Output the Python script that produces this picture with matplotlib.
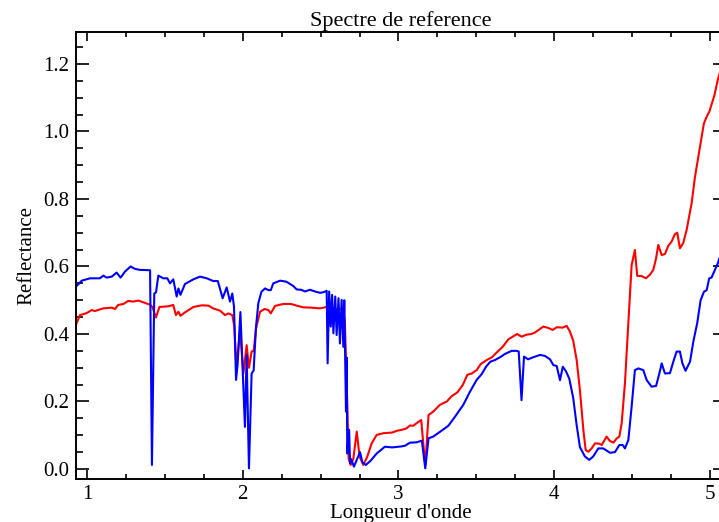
import numpy as np
import matplotlib
matplotlib.use("Agg")
from matplotlib import pyplot as plt
from matplotlib.ticker import MultipleLocator

# Reference spectrum, red curve (wavelength, reflectance)
wl_red = [0.929, 0.955, 0.998, 1.030, 1.050, 1.105, 1.159, 1.180, 1.200, 1.234,
          1.265, 1.297, 1.330, 1.367, 1.404, 1.420, 1.443, 1.465, 1.520, 1.554,
          1.571, 1.587, 1.600, 1.629, 1.683, 1.737, 1.780, 1.810, 1.855, 1.886,
          1.907, 1.933, 1.946, 1.957, 1.970, 1.983, 2.004, 2.025, 2.040, 2.057,
          2.070, 2.085, 2.111, 2.140, 2.165, 2.180, 2.207, 2.260, 2.310, 2.346,
          2.389, 2.440, 2.496, 2.550, 2.603, 2.646, 2.656, 2.670, 2.680, 2.693,
          2.710, 2.732, 2.750, 2.774, 2.800, 2.828, 2.860, 2.902, 2.960, 2.988,
          3.020, 3.050, 3.074, 3.095, 3.120, 3.146, 3.172, 3.193, 3.223, 3.266,
          3.310, 3.342, 3.378, 3.413, 3.442, 3.470, 3.502, 3.528, 3.567, 3.600,
          3.630, 3.669, 3.705, 3.733, 3.762, 3.790, 3.822, 3.853, 3.875, 3.900,
          3.930, 3.962, 3.990, 4.016, 4.055, 4.080, 4.101, 4.122, 4.144, 4.165,
          4.187, 4.202, 4.219, 4.240, 4.262, 4.290, 4.305, 4.336, 4.358, 4.380,
          4.400, 4.418, 4.433, 4.454, 4.476, 4.497, 4.518, 4.533, 4.560, 4.589,
          4.615, 4.636, 4.654, 4.668, 4.690, 4.711, 4.732, 4.754, 4.775, 4.790,
          4.807, 4.828, 4.850, 4.882, 4.904, 4.936, 4.961, 4.979, 4.996, 5.029,
          5.050, 5.075]
refl_red = [0.427, 0.456, 0.462, 0.471, 0.468, 0.476, 0.478, 0.474, 0.486, 0.489,
            0.498, 0.496, 0.499, 0.493, 0.487, 0.480, 0.449, 0.480, 0.482, 0.486,
            0.456, 0.466, 0.454, 0.464, 0.480, 0.485, 0.484, 0.476, 0.469, 0.456,
            0.461, 0.456, 0.422, 0.320, 0.350, 0.410, 0.283, 0.367, 0.300, 0.348,
            0.350, 0.415, 0.466, 0.474, 0.471, 0.461, 0.483, 0.489, 0.489, 0.484,
            0.479, 0.478, 0.476, 0.481, 0.473, 0.476, 0.432, 0.214, 0.030, 0.012,
            0.030, 0.111, 0.037, 0.012, 0.037, 0.076, 0.101, 0.106, 0.108, 0.113,
            0.116, 0.120, 0.129, 0.128, 0.137, 0.145, 0.010, 0.160, 0.170, 0.190,
            0.200, 0.216, 0.227, 0.249, 0.279, 0.283, 0.293, 0.311, 0.323, 0.331,
            0.345, 0.362, 0.384, 0.392, 0.400, 0.392, 0.398, 0.400, 0.404, 0.412,
            0.422, 0.418, 0.412, 0.420, 0.419, 0.424, 0.407, 0.380, 0.323, 0.234,
            0.116, 0.056, 0.051, 0.061, 0.076, 0.075, 0.071, 0.096, 0.083, 0.078,
            0.090, 0.096, 0.135, 0.254, 0.432, 0.604, 0.649, 0.572, 0.572, 0.565,
            0.576, 0.590, 0.624, 0.664, 0.634, 0.637, 0.661, 0.674, 0.696, 0.700,
            0.654, 0.669, 0.708, 0.787, 0.866, 0.955, 1.024, 1.044, 1.059, 1.108,
            1.153, 1.192]

# Blue curve
wl_blue = [0.929, 0.966, 1.019, 1.083, 1.105, 1.126, 1.159, 1.190, 1.216, 1.244,
           1.280, 1.308, 1.340, 1.405, 1.417, 1.432, 1.443, 1.458, 1.490, 1.516,
           1.533, 1.554, 1.576, 1.587, 1.600, 1.629, 1.683, 1.726, 1.769, 1.810,
           1.840, 1.871, 1.897, 1.918, 1.933, 1.944, 1.957, 1.967, 1.985, 2.014,
           2.025, 2.040, 2.057, 2.070, 2.085, 2.100, 2.120, 2.143, 2.165, 2.180,
           2.196, 2.240, 2.280, 2.325, 2.346, 2.375, 2.400, 2.432, 2.464, 2.496,
           2.520, 2.539, 2.545, 2.555, 2.565, 2.574, 2.582, 2.594, 2.603, 2.615,
           2.624, 2.635, 2.646, 2.652, 2.663, 2.668, 2.671, 2.683, 2.689, 2.695,
           2.714, 2.753, 2.768, 2.790, 2.820, 2.860, 2.913, 2.960, 3.020, 3.042,
           3.074, 3.116, 3.150, 3.172, 3.193, 3.223, 3.266, 3.320, 3.363, 3.416,
           3.459, 3.502, 3.534, 3.562, 3.590, 3.620, 3.652, 3.684, 3.727, 3.759,
           3.772, 3.790, 3.806, 3.832, 3.865, 3.909, 3.940, 3.973, 3.994, 4.016,
           4.037, 4.055, 4.076, 4.097, 4.122, 4.144, 4.165, 4.197, 4.225, 4.250,
           4.283, 4.315, 4.358, 4.390, 4.418, 4.440, 4.454, 4.476, 4.497, 4.518,
           4.540, 4.572, 4.593, 4.625, 4.654, 4.675, 4.690, 4.711, 4.743, 4.768,
           4.786, 4.807, 4.823, 4.843, 4.872, 4.893, 4.918, 4.940, 4.961, 4.979,
           4.995, 5.010, 5.050, 5.075]
refl_blue = [0.540, 0.558, 0.565, 0.565, 0.573, 0.567, 0.570, 0.582, 0.567, 0.585,
             0.600, 0.593, 0.590, 0.589, 0.012, 0.520, 0.523, 0.573, 0.565, 0.565,
             0.550, 0.562, 0.511, 0.535, 0.516, 0.548, 0.562, 0.570, 0.565, 0.557,
             0.557, 0.506, 0.538, 0.496, 0.520, 0.480, 0.264, 0.310, 0.465, 0.125,
             0.338, 0.002, 0.283, 0.292, 0.420, 0.491, 0.525, 0.535, 0.530, 0.530,
             0.550, 0.558, 0.555, 0.542, 0.532, 0.531, 0.526, 0.531, 0.526, 0.522,
             0.524, 0.528, 0.313, 0.526, 0.422, 0.516, 0.402, 0.511, 0.397, 0.506,
             0.372, 0.501, 0.362, 0.500, 0.170, 0.330, 0.046, 0.116, 0.017, 0.030,
             0.007, 0.050, 0.020, 0.012, 0.024, 0.046, 0.066, 0.064, 0.067, 0.069,
             0.078, 0.079, 0.084, 0.002, 0.091, 0.096, 0.110, 0.128, 0.155, 0.190,
             0.229, 0.264, 0.281, 0.303, 0.318, 0.323, 0.331, 0.341, 0.350, 0.350,
             0.348, 0.204, 0.333, 0.325, 0.331, 0.338, 0.335, 0.325, 0.308, 0.305,
             0.263, 0.303, 0.289, 0.267, 0.210, 0.130, 0.065, 0.037, 0.027, 0.037,
             0.061, 0.061, 0.048, 0.050, 0.071, 0.071, 0.061, 0.086, 0.185, 0.293,
             0.298, 0.293, 0.264, 0.244, 0.246, 0.283, 0.313, 0.283, 0.284, 0.323,
             0.348, 0.348, 0.313, 0.291, 0.318, 0.377, 0.432, 0.500, 0.525, 0.530,
             0.565, 0.567, 0.609, 0.644]

plt.rcParams['font.family'] = ['Liberation Serif', 'DejaVu Serif']

fig = plt.figure(figsize=(7.19, 5.22), dpi=100)
# axes runs a little past the right edge of the picture, like the reference
ax = fig.add_axes([0.1057, 0.0824, 0.9047, 0.8563])

ax.plot(wl_red, refl_red, color="#ff0000", linewidth=1.5)
ax.plot(wl_blue, refl_blue, color="#0000ff", linewidth=1.5)

ax.set_xlim(0.9294, 5.106)
ax.set_ylim(-0.0296, 1.2948)

ax.xaxis.set_major_locator(MultipleLocator(1))
ax.xaxis.set_minor_locator(MultipleLocator(0.25))
ax.yaxis.set_major_locator(MultipleLocator(0.2))
ax.yaxis.set_minor_locator(MultipleLocator(0.05))
ax.yaxis.set_major_formatter(matplotlib.ticker.FormatStrFormatter("%.1f"))

ax.tick_params(axis="x", which="major", direction="in", length=6.5, width=1.2,
               top=True, labelsize=15, pad=4)
ax.tick_params(axis="x", which="minor", direction="in", length=3.3, width=1.2, top=True)
ax.tick_params(axis="y", which="major", direction="in", length=9.4, width=1.2,
               right=True, labelsize=15, pad=5)
ax.tick_params(axis="y", which="minor", direction="in", length=4.7, width=1.2, right=True)

for sp in ax.spines.values():
    sp.set_linewidth(1.4)

ax.set_title("Spectre de reference", fontsize=16, pad=4)
ax.set_xlabel("Longueur d'onde", fontsize=15, labelpad=0)
ax.set_ylabel("Reflectance", fontsize=15, labelpad=5)

fig.savefig("out.png", dpi=100)
